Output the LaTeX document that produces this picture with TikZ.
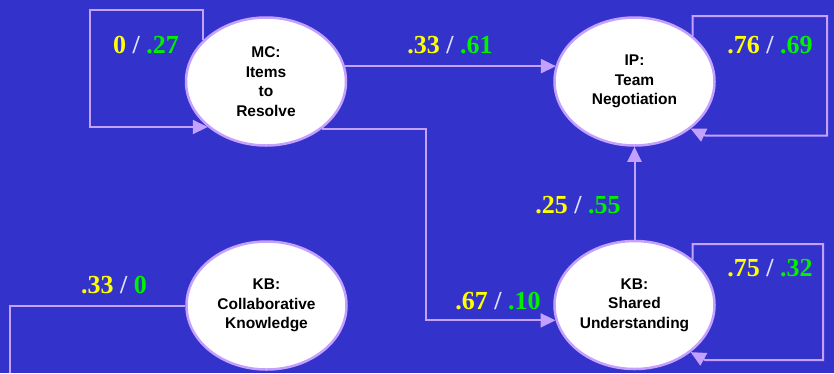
\documentclass[tikz,border=0pt]{standalone}
\usepackage{fontspec}
\setmainfont{Liberation Serif}
\newfontfamily\nodefont{Liberation Sans}
\usetikzlibrary{shapes.geometric,arrows.meta}
\definecolor{bgblue}{RGB}{51,51,204}
\definecolor{lav}{RGB}{196,160,255}
\definecolor{ylw}{RGB}{255,255,0}
\definecolor{grn}{RGB}{0,240,0}
\definecolor{slashc}{RGB}{225,225,255}
\tikzset{
  ell/.style={ellipse, draw=lav, line width=2.5pt, fill=white, text=black,
    minimum width=160pt, minimum height=128pt, inner sep=0pt, align=center,
    font=\nodefont\bfseries\fontsize{15.5}{19.5}\selectfont},
  conn/.style={draw=lav, line width=2pt, -{Triangle[length=15pt,width=14pt]}},
  link/.style={draw=lav, line width=2pt},
  lbl/.style={font=\bfseries\fontsize{26}{30}\selectfont, inner sep=0pt}
}
\newcommand\wtpair[2]{\textcolor{ylw}{#1} \textcolor{slashc}{/} \textcolor{grn}{#2}}
\begin{document}
\begin{tikzpicture}[x=1pt,y=-1pt]
\useasboundingbox (0,0) rectangle (834,373);
\fill[bgblue] (0,0) rectangle (834,373);
% nodes
\node[ell] (mc) at (266,81.5) {MC:\\Items\\to\\Resolve};
\node[ell] (ip) at (634.5,81.5) {IP:\\Team\\Negotiation};
\node[ell] (co) at (266.5,305.5) {KB:\\Collaborative\\Knowledge};
\node[ell] (sh) at (634.5,305) {KB:\\Shared\\Understanding};
% corner coordinates
\coordinate (mcl) at (90,10);
\coordinate (ipl) at (827,16);
\coordinate (shl) at (823,244);
\coordinate (mid) at (426,200);
\coordinate (ipb) at (705,135.5);
\coordinate (shb) at (705,360);
\coordinate (cof) at (10,305.5);
\coordinate (coe) at (10,373);
% connectors
\draw[conn] (mc.147) |- (mcl) |- (mc.218.6);
\draw[conn] (mc.11.1) -- (ip.168.9 |- mc.11.1);
\draw[conn] (mc.-40.5) -| (mid) |- (sh.191.5);
\draw[conn] (sh.north) -- (ip.south);
\draw[conn] (ip.38.7) |- (ipl) |- (ipb) -- (ip.-40);
\draw[conn] (sh.38.7) |- (shl) |- (shb) -- (sh.-40);
\draw[link] (co.west) -- (cof) -- (coe);
% labels
\node[lbl] (l1) at (146,45) {\wtpair{0}{.27}};
\node[lbl] (l2) at (450,45) {\wtpair{.33}{.61}};
\node[lbl] (l3) at (770,45) {\wtpair{.76}{.69}};
\node[lbl] (l4) at (578,205) {\wtpair{.25}{.55}};
\node[lbl] (l5) at (770,268) {\wtpair{.75}{.32}};
\node[lbl] (l6) at (498,301) {\wtpair{.67}{.10}};
\node[lbl] (l7) at (114,285) {\wtpair{.33}{0}};
\end{tikzpicture}
\end{document}
